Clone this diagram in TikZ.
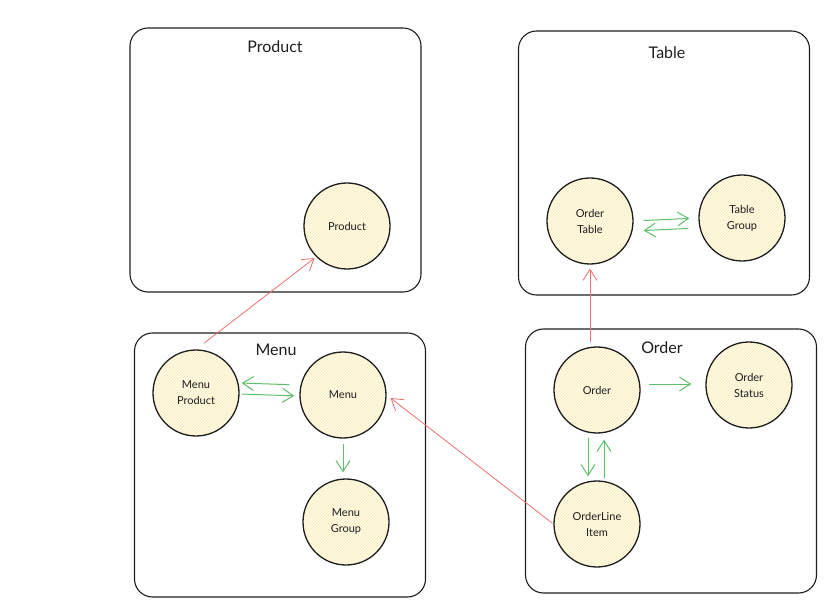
\documentclass[tikz,border=0pt]{standalone}
\usepackage{fontspec}
\setmainfont{Lato}
\usetikzlibrary{arrows.meta,patterns}
\definecolor{inkblack}{RGB}{30,30,30}
\definecolor{circfill}{RGB}{255,251,235}
\definecolor{hatch}{RGB}{250,234,175}
\definecolor{redline}{RGB}{236,110,110}
\definecolor{greenline}{RGB}{95,190,105}
\begin{document}
\begin{tikzpicture}[x=1pt, y=-1pt,
  ctx/.style={draw=inkblack, line width=1.1pt, rounded corners=18pt, minimum width=291pt, minimum height=264pt},
  ctxtitle/.style={font=\fontsize{16}{18}\selectfont, text=inkblack},
  entity/.style={draw=inkblack, line width=1.3pt, circle, minimum size=86pt, align=center, font=\fontsize{11}{16}\selectfont, text=inkblack, preaction={fill=circfill}, pattern=north east lines, pattern color=hatch},
  dep/.style={-{Straight Barb[length=11pt,width=14pt]}, redline, line width=0.8pt},
  rel/.style={-{Straight Barb[length=11pt,width=14pt]}, greenline, line width=1pt}]
\useasboundingbox (0,0) rectangle (835,609);

\node (productbox) [ctx] at (275.5,160) {};
\node (tablebox) [ctx] at (664,163) {};
\node (menubox) [ctx] at (280,465) {};
\node (orderbox) [ctx] at (671,461) {};

\node (producttitle) [ctxtitle] at (275,47) {Product};
\node (tabletitle) [ctxtitle] at (667,53) {Table};
\node (menutitle) [ctxtitle] at (276,350) {Menu};
\node (ordertitle) [ctxtitle] at (662,348) {Order};

\node (product) [entity] at (347,226) {Product};
\node (otable) [entity] at (590,221) {Order\\Table};
\node (tgroup) [entity] at (742,218) {Table\\Group};
\node (mproduct) [entity] at (196,393) {Menu\\Product};
\node (menu) [entity] at (343,395) {Menu};
\node (mgroup) [entity] at (346,522) {Menu\\Group};
\node (order) [entity] at (597,390) {Order};
\node (ostatus) [entity] at (749,385) {Order\\Status};
\node (olitem) [entity] at (597,524) {OrderLine\\Item};

\draw [dep, shorten <=10pt, shorten >=2pt] (mproduct.north) -- (product.225);
\draw [dep, shorten <=4pt, shorten >=4pt] (otable.south |- order.north) -- (otable.south);
\draw [dep, shorten <=1pt, shorten >=5pt] (olitem.west) -- (menu.east);

\draw [rel, shorten <=10pt, shorten >=2pt] ([yshift=10pt]menu.west) -- ([yshift=10pt]mproduct.east);
\draw [rel, shorten <=2pt, shorten >=5pt] ([yshift=-1pt]mproduct.east) -- ([yshift=-1pt]menu.west);
\draw [rel, shorten <=5pt, shorten >=6pt] (menu.south) -- (menu.south |- mgroup.north);
\draw [rel, shorten <=10pt, shorten >=9pt] (otable.east) -- (tgroup.west);
\draw [rel, shorten <=10pt, shorten >=10pt] ([yshift=-10pt]tgroup.west) -- ([yshift=-10pt]otable.east);
\draw [rel, shorten <=8pt, shorten >=14pt] ([yshift=6pt]order.east) -- ([yshift=1pt]ostatus.west);
\draw [rel, shorten <=4pt, shorten >=4pt] ([xshift=-9pt]order.south) -- ([xshift=-9pt]olitem.north);
\draw [rel, shorten <=2pt, shorten >=6pt] ([xshift=7pt]olitem.north) -- ([xshift=7pt]order.south);
\end{tikzpicture}
\end{document}
